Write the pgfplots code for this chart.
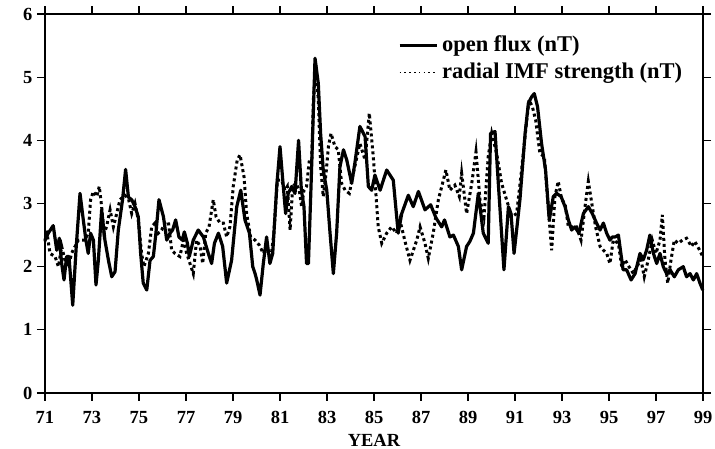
\documentclass[border=0pt]{standalone}
\usepackage{fontspec}
\setmainfont{Liberation Serif}
\usepackage{pgfplots}
\pgfplotsset{compat=1.18}
\begin{document}
\begin{tikzpicture}
\pgfplotsset{
  myframe/.style={
    scale only axis, width=658pt, height=379pt,
    xmin=71, xmax=99, ymin=0, ymax=6,
    xtick={71,73,...,99}, ytick={0,1,...,6},
    tick align=outside,
    major tick length=8pt,
    every tick/.style={line width=1.1pt, black},
    axis line style={line width=1.6pt},
  }
}
% mirrored outward ticks on top and right
\begin{axis}[myframe, axis x line*=top, axis y line*=right,
  xticklabels={}, yticklabels={}]
\end{axis}
\begin{axis}[myframe,
  axis x line*=bottom, axis y line*=left,
  ticklabel style={font=\fontsize{18.5}{20}\selectfont\bfseries},
  /pgf/number format/assume math mode=true,
  xlabel={YEAR},
  xlabel style={font=\fontsize{18.5}{20}\selectfont\bfseries, at={(axis description cs:0.5,0)}, anchor=north, yshift=-41pt, inner sep=0pt},
  yticklabel style={xshift=-1pt},
  xticklabel style={yshift=-7pt},
  legend cell align=left,
  legend style={at={(rel axis cs:0.5365,0.9446)}, anchor=north west, draw=none, fill=none,
    font=\fontsize{22.5}{24}\selectfont\bfseries, row sep=6pt, column sep=4pt, inner sep=0pt,
    nodes={inner sep=0pt, text height=16pt, text depth=5pt}},
  clip=false,
]
\addplot[black, line width=3.2pt, line join=round,
  legend image code/.code={\draw[black, line width=2.8pt] (0pt,0pt) -- (37pt,0pt);}]
coordinates {
(71.00,2.42) (71.14,2.53) (71.35,2.65) (71.50,2.26) (71.61,2.45) (71.71,2.05) (71.81,1.79)
(71.92,2.16) (72.02,2.16) (72.18,1.39) (72.33,2.32) (72.49,3.16) (72.63,2.74) (72.74,2.42)
(72.84,2.21) (72.94,2.53) (73.06,2.42) (73.17,1.71) (73.27,2.10) (73.41,2.90) (73.55,2.42)
(73.70,2.10) (73.84,1.84) (73.98,1.92) (74.12,2.58) (74.30,3.06) (74.43,3.54) (74.55,3.10)
(74.69,3.06) (74.83,2.95) (74.97,2.79) (75.07,2.21) (75.18,1.74) (75.33,1.63) (75.47,2.10)
(75.61,2.16) (75.72,2.53) (75.85,3.06) (76.04,2.79) (76.18,2.42) (76.32,2.53) (76.43,2.58)
(76.56,2.74) (76.70,2.47) (76.84,2.42) (76.93,2.55) (77.06,2.37) (77.14,2.16) (77.31,2.42)
(77.52,2.58) (77.74,2.47) (77.95,2.21) (78.09,2.05) (78.21,2.37) (78.38,2.53) (78.56,2.32)
(78.73,1.74) (78.94,2.10) (79.16,2.95) (79.33,3.21) (79.51,2.74) (79.70,2.53) (79.84,2.00)
(79.94,1.89) (80.01,1.79) (80.15,1.55) (80.29,2.05) (80.43,2.47) (80.57,2.05) (80.69,2.21)
(80.86,3.27) (81.00,3.90) (81.14,3.27) (81.24,2.84) (81.35,3.16) (81.50,3.27) (81.64,3.16)
(81.79,4.00) (81.91,3.21) (82.02,2.95) (82.13,2.05) (82.21,2.05) (82.32,3.27) (82.49,5.30)
(82.63,4.90) (82.73,4.10) (82.84,3.53) (82.99,3.21) (83.13,2.53) (83.27,1.89) (83.41,2.53)
(83.55,3.58) (83.70,3.85) (83.84,3.69) (84.05,3.32) (84.19,3.65) (84.40,4.22) (84.62,4.06)
(84.76,3.27) (84.90,3.21) (85.04,3.45) (85.26,3.21) (85.54,3.53) (85.82,3.37) (86.03,2.53)
(86.18,2.84) (86.46,3.13) (86.67,2.95) (86.89,3.19) (87.17,2.90) (87.41,2.98) (87.64,2.77)
(87.88,2.63) (88.00,2.74) (88.23,2.47) (88.38,2.50) (88.59,2.32) (88.73,1.95) (88.94,2.32)
(89.08,2.40) (89.23,2.53) (89.44,3.16) (89.65,2.53) (89.86,2.37) (89.96,4.11) (90.15,4.14)
(90.29,3.32) (90.53,1.95) (90.72,2.95) (90.83,2.84) (90.96,2.21) (91.21,3.06) (91.43,4.11)
(91.57,4.59) (91.71,4.69) (91.82,4.74) (91.96,4.53) (92.13,3.95) (92.30,3.53) (92.46,2.74)
(92.63,3.11) (92.77,3.16) (92.96,3.11) (93.13,2.95) (93.27,2.74) (93.41,2.58) (93.55,2.63)
(93.72,2.53) (93.91,2.84) (94.12,2.95) (94.29,2.84) (94.47,2.69) (94.62,2.58) (94.76,2.69)
(94.90,2.53) (95.04,2.42) (95.14,2.47) (95.26,2.47) (95.40,2.50) (95.60,1.95) (95.75,1.95)
(95.94,1.79) (96.11,1.89) (96.32,2.21) (96.46,2.11) (96.60,2.26) (96.74,2.50) (96.89,2.21)
(97.03,2.05) (97.17,2.21) (97.31,2.00) (97.45,1.89) (97.60,1.95) (97.78,1.84) (97.95,1.95)
(98.16,2.00) (98.30,1.84) (98.45,1.89) (98.59,1.79) (98.73,1.89) (98.87,1.74) (98.99,1.63)
};
\addlegendentry{open flux (nT)}
\addplot[black, line width=3pt, dash pattern=on 3pt off 3pt,
  legend image code/.code={\draw[black, line width=1.6pt, dash pattern=on 1.6pt off 3.2pt] (0pt,0pt) -- (37pt,0pt);}]
coordinates {
(71.00,2.40) (71.07,2.58) (71.21,2.21) (71.43,2.16) (71.57,2.00) (71.71,2.32) (71.85,2.10)
(71.99,2.00) (72.13,2.21) (72.28,2.32) (72.42,2.42) (72.56,2.42) (72.70,2.42) (72.84,2.53)
(72.94,3.06) (73.06,3.19) (73.20,3.11) (73.31,3.27) (73.41,2.95) (73.51,2.53) (73.62,2.63)
(73.77,2.90) (73.91,2.63) (74.05,2.84) (74.19,3.06) (74.40,3.13) (74.55,3.08) (74.69,2.84)
(74.83,3.00) (74.97,2.74) (75.11,2.21) (75.21,2.00) (75.40,2.21) (75.54,2.63) (75.68,2.69)
(75.82,2.53) (75.96,2.58) (76.11,2.69) (76.25,2.71) (76.39,2.26) (76.53,2.21) (76.74,2.16)
(76.89,2.42) (77.03,2.21) (77.17,2.05) (77.31,1.89) (77.45,2.42) (77.60,2.32) (77.71,2.05)
(77.84,2.53) (77.98,2.63) (78.16,3.06) (78.28,2.79) (78.45,2.69) (78.59,2.69) (78.73,2.47)
(78.87,2.63) (79.01,3.27) (79.18,3.69) (79.30,3.77) (79.47,3.42) (79.58,2.84) (79.75,2.47)
(79.94,2.42) (80.12,2.34) (80.29,2.21) (80.43,2.32) (80.60,2.10) (80.74,2.53) (80.89,3.37)
(81.07,3.37) (81.21,3.21) (81.31,3.27) (81.43,2.58) (81.54,3.27) (81.68,3.32) (81.82,3.21)
(81.92,2.95) (82.02,3.21) (82.13,3.27) (82.25,3.69) (82.35,3.69) (82.42,4.64) (82.52,5.20)
(82.63,4.64) (82.73,3.58) (82.84,3.11) (82.96,3.48) (83.06,3.90) (83.17,4.11) (83.34,3.90)
(83.48,3.85) (83.62,3.32) (83.77,3.21) (83.95,3.16) (84.12,3.48) (84.40,3.95) (84.62,3.69)
(84.80,4.43) (84.97,3.74) (85.18,2.63) (85.33,2.37) (85.54,2.53) (85.75,2.63) (85.96,2.53)
(86.10,2.74) (86.32,2.40) (86.53,2.10) (86.82,2.42) (86.96,2.63) (87.17,2.37) (87.31,2.13)
(87.52,2.53) (87.74,3.06) (88.06,3.53) (88.23,3.21) (88.44,3.29) (88.63,3.11) (88.73,3.48)
(88.94,2.84) (89.16,3.32) (89.34,3.82) (89.51,3.06) (89.68,2.79) (89.86,3.74) (90.01,4.11)
(90.22,3.79) (90.43,3.32) (90.64,3.06) (90.86,2.79) (91.07,2.84) (91.28,3.53) (91.50,4.32)
(91.60,4.64) (91.74,4.53) (91.88,4.32) (92.06,3.79) (92.25,3.74) (92.39,3.06) (92.56,2.26)
(92.70,3.11) (92.84,3.35) (92.99,3.06) (93.13,3.00) (93.27,2.63) (93.44,2.63) (93.62,2.63)
(93.81,2.42) (93.98,2.95) (94.12,3.35) (94.29,2.95) (94.43,2.63) (94.62,2.32) (94.76,2.26)
(94.90,2.21) (95.04,2.05) (95.18,2.42) (95.40,2.37) (95.54,2.00) (95.68,2.11) (95.85,2.00)
(96.04,1.89) (96.18,2.00) (96.36,2.11) (96.50,1.84) (96.67,2.11) (96.84,2.42) (97.00,2.21)
(97.17,2.42) (97.27,2.82) (97.38,2.11) (97.50,1.74) (97.64,2.11) (97.78,2.42) (97.95,2.37)
(98.12,2.42) (98.30,2.45) (98.51,2.32) (98.65,2.40) (98.80,2.30) (98.99,2.16)
};
\addlegendentry{radial IMF strength (nT)}
\end{axis}
\pgfresetboundingbox
\path (-45pt,-56pt) rectangle (670pt,393pt);
\end{tikzpicture}
\end{document}
